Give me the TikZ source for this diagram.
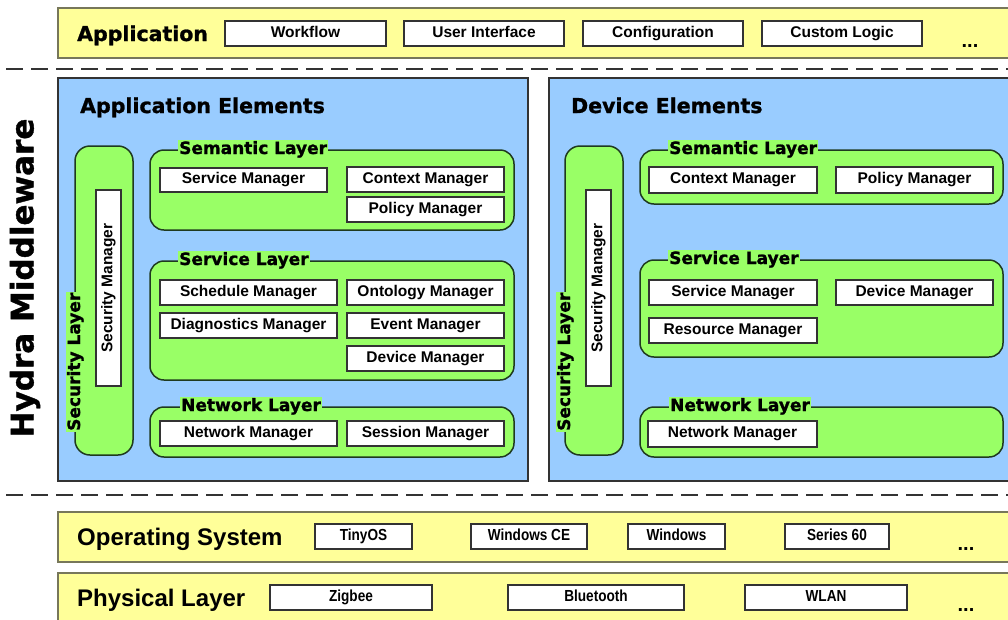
\documentclass[tikz,border=0pt]{standalone}
\usepackage{fontspec}
\setmainfont{Liberation Sans}
\newfontfamily\hdfont[BoldFeatures={FakeBold=1.2}]{DejaVu Sans}
\newfontfamily\narrowfont[FakeStretch=0.85]{Liberation Sans}
\definecolor{ylw}{HTML}{FFFF99}
\definecolor{ylwb}{HTML}{77775A}
\definecolor{blu}{HTML}{99CCFF}
\definecolor{grn}{HTML}{99FF66}
\definecolor{bord}{HTML}{333333}
\definecolor{gbord}{HTML}{1F3A1F}
\newcommand{\bx}[6]{\node[bxs, minimum width={(#4)-(#2)}, minimum height={(#5)-(#3)}] (#1) at ({((#2)+(#4))/2},{((#3)+(#5))/2}) {#6};}
\newcommand{\bxn}[6]{\node[bxs, font=\narrowfont\fontsize{16}{19}\selectfont\bfseries, minimum width={(#4)-(#2)}, minimum height={(#5)-(#3)}] (#1) at ({((#2)+(#4))/2},{((#3)+(#5))/2}) {#6};}
\begin{document}
\begin{tikzpicture}[x=1pt,y=-1pt,
  bar/.style={fill=ylw, draw=ylwb, line width=1.8pt},
  panel/.style={fill=blu, draw=bord, line width=1.3pt},
  glayer/.style={fill=grn, draw=gbord, line width=1.5pt, rounded corners=14pt},
  bxs/.style={draw=bord, fill=white, line width=1.3pt, inner sep=0pt, text height=11pt, text depth=3.5pt, font=\fontsize{15.5}{18}\selectfont\bfseries},
  hd/.style={font=\hdfont\fontsize{20.5}{24}\selectfont\bfseries, inner sep=0pt, anchor=base west},
  hdb/.style={font=\fontsize{24}{28}\selectfont\bfseries, inner sep=0pt, anchor=base west},
  ttl/.style={font=\hdfont\fontsize{17}{20}\selectfont\bfseries, fill=grn, inner sep=1pt, anchor=base west},
  dotsn/.style={font=\fontsize{20}{24}\selectfont\bfseries, inner sep=0pt, anchor=base},
  dashln/.style={draw=bord, line width=2.5pt, dash pattern=on 17pt off 8pt}
]
\clip (0,0) rectangle (1008,619);
\fill[white] (0,0) rectangle (1008,619);

% Application bar
\draw[bar] (58,8) rectangle (1015,58);
\node[hd] (app) at (77,41) {Application};
\bx{wf}{225}{21}{386}{46}{Workflow}
\bx{ui}{404}{21}{564}{46}{User Interface}
\bx{cfg}{583}{21}{743}{46}{Configuration}
\bx{cl}{762}{21}{922}{46}{Custom Logic}
\node[dotsn] (d1) at (970,47) {...};

\coordinate (da) at (6,69);
\coordinate (db) at (1008,69);
\draw[dashln] (da) -- (db);

\node[font=\hdfont\fontsize{31}{36}\selectfont\bfseries, rotate=90, inner sep=0pt] (hydra) at (25,278) {Hydra Middleware};

% Panels
\draw[panel] (58,78) rectangle (528,481);
\draw[panel] (549,78) rectangle (1015,481);
\node[hd] (ae) at (80,113) {Application Elements};
\node[hd] (de) at (571,113) {Device Elements};

% Left security
\draw[glayer, rounded corners=15pt] (75,146) rectangle (133,455);
\node[bxs, rotate=90, minimum width=196, minimum height=25] (lsecm) at (108.5,288) {Security Manager};
\node[ttl, rotate=90] (lsecl) at (80,432) {Security Layer};

% Left semantic
\draw[glayer] (150,150) rectangle (514,230);
\node[ttl] (lsemt) at (178,154) {Semantic Layer};
\bx{lsm}{160}{168}{327}{192}{Service Manager}
\bx{lcm}{347}{167}{504}{192}{Context Manager}
\bx{lpm}{347}{197}{504}{222}{Policy Manager}

% Left service
\draw[glayer] (150,261) rectangle (514,380);
\node[ttl] (lsvt) at (178,265) {Service Layer};
\bx{lsch}{160}{280}{337}{305}{Schedule Manager}
\bx{lont}{347}{280}{504}{305}{Ontology Manager}
\bx{ldia}{160}{313}{337}{338}{Diagnostics Manager}
\bx{levt}{347}{313}{504}{338}{Event Manager}
\bx{ldev}{347}{346}{504}{371}{Device Manager}

% Left network
\draw[glayer] (150,407) rectangle (514,457);
\node[ttl] (lnwt) at (180,411) {Network Layer};
\bx{lnm}{160}{421}{337}{446}{Network Manager}
\bx{lses}{347}{421}{504}{446}{Session Manager}

% Right security
\draw[glayer, rounded corners=15pt] (565,146) rectangle (623,455);
\node[bxs, rotate=90, minimum width=196, minimum height=25] (rsecm) at (598.5,288) {Security Manager};
\node[ttl, rotate=90] (rsecl) at (570,432) {Security Layer};

% Right semantic
\draw[glayer] (640,150) rectangle (1003,204);
\node[ttl] (rsemt) at (668,154) {Semantic Layer};
\bx{rcm}{649}{167}{817}{193}{Context Manager}
\bx{rpm}{836}{167}{993}{193}{Policy Manager}

% Right service
\draw[glayer] (640,260) rectangle (1003,357);
\node[ttl] (rsvt) at (668,264) {Service Layer};
\bx{rsm}{649}{280}{817}{305}{Service Manager}
\bx{rdm}{836}{280}{993}{305}{Device Manager}
\bx{rrm}{649}{318}{817}{343}{Resource Manager}

% Right network
\draw[glayer] (640,407) rectangle (1003,457);
\node[ttl] (rnwt) at (669,411) {Network Layer};
\bx{rnm}{648}{421}{817}{447}{Network Manager}

\coordinate (dc) at (6,495);
\coordinate (dd) at (1008,495);
\draw[dashln] (dc) -- (dd);

% OS bar
\draw[bar] (58,512) rectangle (1015,562);
\node[hdb] (os) at (77,545) {Operating System};
\bxn{tos}{315}{524}{412}{549}{TinyOS}
\bxn{wce}{471}{524}{587}{549}{Windows CE}
\bxn{win}{628}{524}{725}{549}{Windows}
\bxn{s60}{785}{524}{889}{549}{Series 60}
\node[dotsn] (d2) at (966,550) {...};

% Physical bar
\draw[bar] (58,573) rectangle (1015,630);
\node[hdb] (phy) at (77,606) {Physical Layer};
\bxn{zig}{270}{585}{432}{610}{Zigbee}
\bxn{bt}{508}{585}{684}{610}{Bluetooth}
\bxn{wlan}{745}{585}{907}{610}{WLAN}
\node[dotsn] (d3) at (966,611) {...};
\end{tikzpicture}
\end{document}
